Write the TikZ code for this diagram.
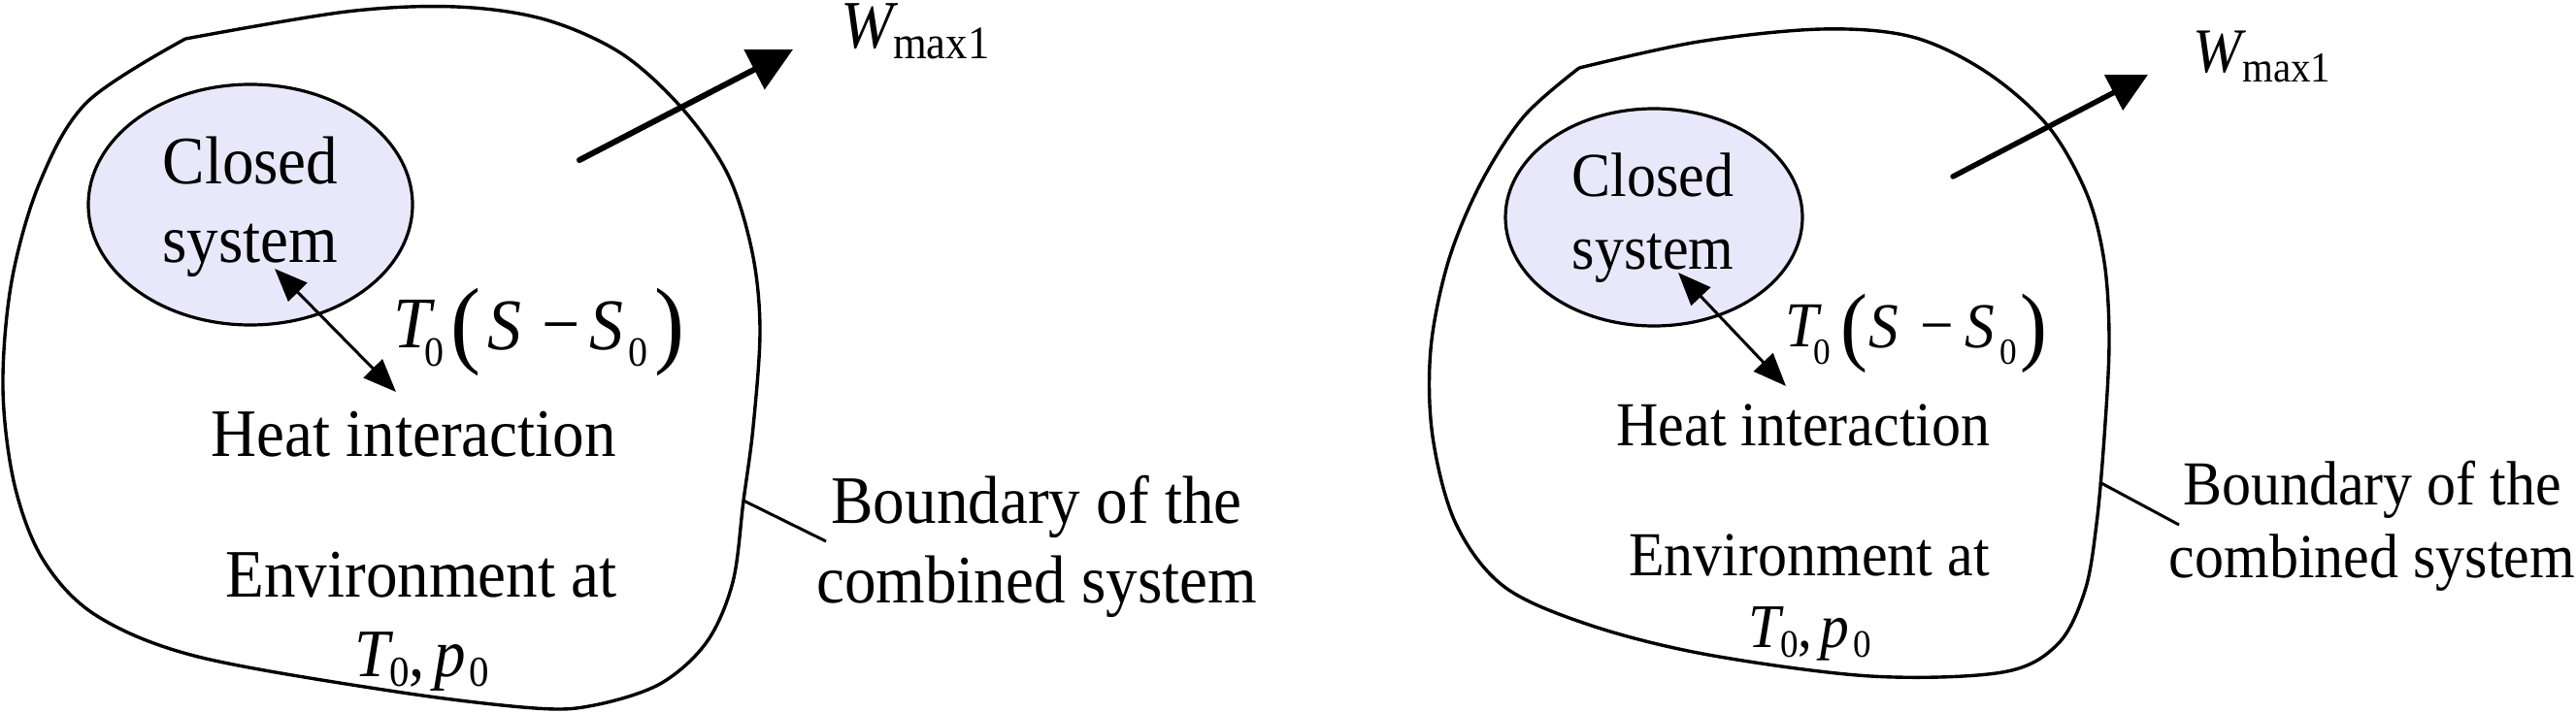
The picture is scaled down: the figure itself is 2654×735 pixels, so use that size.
\documentclass[tikz,border=0pt]{standalone}
\usepackage{fontspec}
\setmainfont[FakeStretch=0.93]{Liberation Serif}
\usetikzlibrary{arrows.meta}
\definecolor{lav}{RGB}{232,232,250}
\newcommand{\fsz}[1]{\fontsize{#1}{#1}\selectfont}
\begin{document}
\begin{tikzpicture}[x=1pt,y=-1pt,
  bnd/.style={line width=3.4pt, line join=round},
  sysell/.style={draw, line width=3.2pt, fill=lav},
  txt/.style={inner sep=0pt, anchor=base},
  txtw/.style={inner sep=0pt, anchor=base west},
  ltxt/.style={txt, font=\fsz{70}},
  rtxt/.style={txt, font=\fsz{64.5}},
  workarrow/.style 2 args={line width=#1, line cap=round, -{Triangle[length=#2,width=#2]}},
  heatarrow/.style={line width=3pt, {Triangle[length=34pt,width=27pt]}-{Triangle[length=34pt,width=27pt]}},
  leader/.style={line width=3pt}]
\useasboundingbox (0,0) rectangle (2654,735);
\fill[white] (0,0) rectangle (2654,735);

% ---------------- left diagram ----------------
\draw[bnd] plot[smooth, tension=0.55] coordinates {(191,40) (357,12) (470,7) (561,20) (640,55) (703,112) (750,180) (775,260) (783,340) (776,440) (766,516) (755,600) (728,662) (680,705) (612,727) (551,730) (408,713) (204,677) (100,635) (45,578) (15,500) (3,400) (12,290) (41,188) (90,105) (191,40)};
\draw[sysell] (258,211) ellipse [x radius=167, y radius=124];

\coordinate (lwa) at (597,165);
\coordinate (lwb) at (817,51);
\draw[workarrow={6pt}{45pt}] (lwa) -- (lwb);
\coordinate (lha) at (283,277);
\coordinate (lhb) at (408,404);
\draw[heatarrow] (lha) -- (lhb);
\coordinate (lla) at (766,516);
\coordinate (llb) at (851,558);
\draw[leader] (lla) -- (llb);

\node[ltxt, text depth=0pt] (lc1) at (258,190) {Closed};
\node[ltxt] (lc2) at (258,271) {system};
\node[ltxt] (lheat) at (426,470) {Heat interaction};
\node[ltxt] (lenv) at (434,615) {Environment at};
\node[txtw, font=\fsz{70}] (ltp) at (365,697) {{\itshape T}\raisebox{-10pt}{\fsz{44}0},\hspace{9pt}{\itshape p}\hspace{4pt}\raisebox{-10pt}{\fsz{44}0}};
\node[ltxt] (lb1) at (1068,539) {Boundary of the};
\node[ltxt] (lb2) at (1068,621) {combined system};
\node[txtw, font=\fsz{70}\itshape] (lW) at (866,50) {W};
\node[txtw, font=\fsz{48}] (lWs) at (920,61) {max1};
% formula
\node[txtw, font=\fsz{75}\itshape] (lfT) at (405,358) {T};
\node[txtw, font=\fsz{43}] (lf0) at (437,377) {0};
\node[txtw, font=\fsz{100}] (lfp) at (464,366) {(};
\node[txtw, font=\fsz{75}\itshape] (lfS) at (502,360) {S};
\node[txtw, font=\fsz{75}] (lfm) at (558,359) {−};
\node[txtw, font=\fsz{75}\itshape] (lfS2) at (607,360) {S};
\node[txtw, font=\fsz{43}] (lf02) at (647,377) {0};
\node[txtw, font=\fsz{100}] (lfq) at (674,366) {)};

% ---------------- right diagram ----------------
\draw[bnd] plot[smooth, tension=0.55] coordinates {(1627,70) (1750,43) (1877,30) (1970,38) (2046,74) (2110,130) (2150,200) (2168,270) (2173,352) (2168,450) (2160,540) (2148,609) (2120,664) (2063,693) (1927,697) (1760,675) (1640,645) (1550,605) (1500,540) (1476,450) (1474,360) (1492,270) (1525,190) (1570,120) (1627,70)};
\draw[sysell] (1704,224) ellipse [x radius=153, y radius=112];

\coordinate (rwa) at (2012,182);
\coordinate (rwb) at (2213,77);
\draw[workarrow={5.5pt}{40pt}] (rwa) -- (rwb);
\coordinate (rha) at (1729,281);
\coordinate (rhb) at (1840,398);
\draw[heatarrow] (rha) -- (rhb);
\coordinate (rla) at (2163,497);
\coordinate (rlb) at (2245,541);
\draw[leader] (rla) -- (rlb);

\node[rtxt, text depth=0pt] (rc1) at (1703,203) {Closed};
\node[rtxt] (rc2) at (1703,277) {system};
\node[rtxt] (rheat) at (1858,459) {Heat interaction};
\node[rtxt] (renv) at (1864,593) {Environment at};
\node[txtw, font=\fsz{64}] (rtp) at (1801,667) {{\itshape T}\raisebox{-10pt}{\fsz{40}0},\hspace{8pt}{\itshape p}\hspace{4pt}\raisebox{-10pt}{\fsz{40}0}};
\node[rtxt] (rb1) at (2444,520) {Boundary of the};
\node[rtxt] (rb2) at (2444,595) {combined system};
\node[txtw, font=\fsz{65}\itshape] (rW) at (2259,75) {W};
\node[txtw, font=\fsz{44}] (rWs) at (2310,85) {max1};
% formula
\node[txtw, font=\fsz{66}\itshape] (rfT) at (1839,357) {T};
\node[txtw, font=\fsz{38}] (rf0) at (1868,375) {0};
\node[txtw, font=\fsz{90}] (rfp) at (1896,365) {(};
\node[txtw, font=\fsz{66}\itshape] (rfS) at (1925,358) {S};
\node[txtw, font=\fsz{66}] (rfm) at (1978,357) {−};
\node[txtw, font=\fsz{66}\itshape] (rfS2) at (2024,358) {S};
\node[txtw, font=\fsz{38}] (rf02) at (2060,375) {0};
\node[txtw, font=\fsz{90}] (rfq) at (2081,365) {)};
\end{tikzpicture}
\end{document}
